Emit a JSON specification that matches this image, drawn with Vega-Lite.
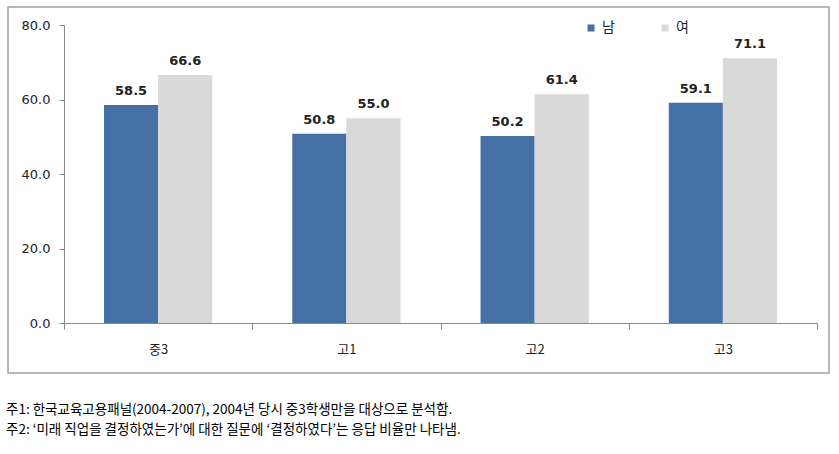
{
  "$schema": "https://vega.github.io/schema/vega-lite/v6.json",
  "width": 821,
  "height": 366,
  "autosize": "none",
  "padding": {"left": 8, "top": 7, "right": 10, "bottom": 81},
  "background": "white",
  "config": {"view": {"stroke": "#a0a0a0", "strokeWidth": 1.5}},
  "data": {"values": [
    {"grade": "중3", "sex": "남", "value": 58.5},
    {"grade": "중3", "sex": "여", "value": 66.6},
    {"grade": "고1", "sex": "남", "value": 50.8},
    {"grade": "고1", "sex": "여", "value": 55.0},
    {"grade": "고2", "sex": "남", "value": 50.2},
    {"grade": "고2", "sex": "여", "value": 61.4},
    {"grade": "고3", "sex": "남", "value": 59.1},
    {"grade": "고3", "sex": "여", "value": 71.1}
  ]},
  "title": {
    "text": ["주1: 한국교육고용패널(2004-2007), 2004년 당시 중3학생만을 대상으로 분석함.", "주2: ‘미래 직업을 결정하였는가’에 대한 질문에 ‘결정하였다’는 응답 비율만 나타냄."],
    "orient": "bottom",
    "anchor": "start",
    "frame": "group",
    "font": "Noto Sans CJK KR",
    "fontSize": 13.5,
    "fontWeight": "normal",
    "color": "#000000",
    "lineHeight": 20,
    "offset": 30,
    "dx": -2
  },
  "encoding": {
    "x": {
      "field": "grade", "type": "nominal", "sort": ["중3", "고1", "고2", "고3"],
      "scale": {"range": [56, 809], "paddingInner": 0, "paddingOuter": 0},
      "axis": {
        "title": null, "offset": -50, "labelAngle": 0, "tickBand": "extent",
        "domainColor": "#888888", "tickColor": "#888888", "tickSize": 6,
        "labelFont": "Noto Sans CJK KR", "labelFontSize": 13, "labelColor": "#222222", "labelPadding": 14
      }
    },
    "xOffset": {"field": "sex", "type": "nominal", "sort": ["남", "여"], "scale": {"paddingInner": 0, "paddingOuter": 0.74}},
    "y": {
      "field": "value", "type": "quantitative",
      "scale": {"domain": [0, 80], "range": [316, 18], "nice": false},
      "axis": {
        "title": null, "offset": -56, "values": [0, 20, 40, 60, 80], "format": ".1f", "grid": false,
        "domainColor": "#888888", "tickColor": "#888888", "tickSize": 5,
        "labelFont": "DejaVu Sans", "labelFontSize": 13, "labelColor": "#222222", "labelPadding": 9
      }
    }
  },
  "layer": [
    {
      "mark": {"type": "bar"},
      "encoding": {
        "color": {
          "field": "sex", "type": "nominal", "sort": ["남", "여"],
          "scale": {"domain": ["남", "여"], "range": ["#4470a6", "#d9d9d9"]},
          "legend": {
            "orient": "none", "direction": "horizontal", "legendX": 576, "legendY": 14,
            "title": null, "symbolType": "square", "symbolSize": 49, "symbolStrokeWidth": 0,
            "labelFont": "Noto Sans CJK KR", "labelFontSize": 14, "labelColor": "#222222",
            "columnPadding": 43, "labelOffset": 4
          }
        }
      }
    },
    {
      "mark": {"type": "text", "baseline": "alphabetic", "dy": -10, "font": "DejaVu Sans", "fontSize": 13, "fontWeight": "bold", "color": "#222222"},
      "encoding": {
        "text": {"field": "value", "type": "quantitative", "format": ".1f"}
      }
    }
  ]
}
